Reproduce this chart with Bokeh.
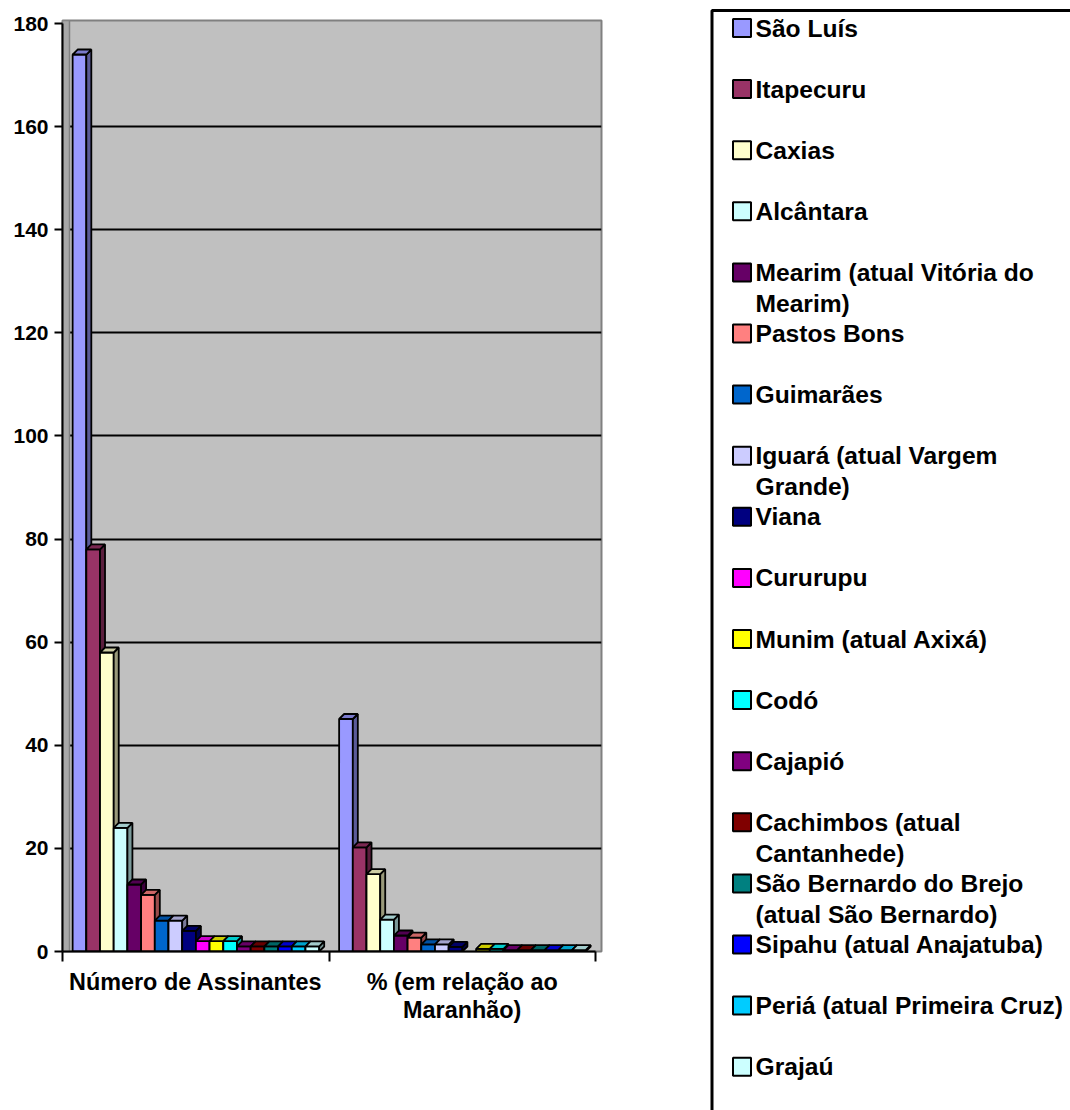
from bokeh.plotting import figure
from bokeh.models import Range1d, FixedTicker
from bokeh.layouts import row
from bokeh.embed import file_html
from bokeh.resources import INLINE
from bokeh.core.properties import value

# ---- data ----
categories = ["Número de Assinantes", "% (em relação ao\nMaranhão)"]
series = [
    "São Luís", "Itapecuru", "Caxias", "Alcântara",
    "Mearim (atual Vitória do\nMearim)", "Pastos Bons", "Guimarães",
    "Iguará (atual Vargem\nGrande)", "Viana", "Cururupu", "Munim (atual Axixá)",
    "Codó", "Cajapió", "Cachimbos (atual\nCantanhede)",
    "São Bernardo do Brejo\n(atual São Bernardo)", "Sipahu (atual Anajatuba)",
    "Periá (atual Primeira Cruz)", "Grajaú",
]
assinantes = [174, 78, 58, 24, 13, 11, 6, 6, 4, 2, 2, 2, 1, 1, 1, 1, 1, 1]
percentual = [45.1, 20.2, 15.0, 6.2, 3.1, 2.7, 1.4, 1.4, 0.9, 0, 0.5, 0.5, 0.26, 0.26, 0.26, 0.26, 0.26, 0.26]
colors = ["#9999FF", "#993366", "#FFFFCC", "#CCFFFF", "#660066", "#FF8080",
          "#0066CC", "#CCCCFF", "#000080", "#FF00FF", "#FFFF00", "#00FFFF",
          "#800080", "#800000", "#008080", "#0000FF", "#00CCFF", "#CCFFFF"]
y_ticks = list(range(0, 181, 20))


def shade(hexcol, f):
    r, g, b = int(hexcol[1:3], 16), int(hexcol[3:5], 16), int(hexcol[5:7], 16)
    return "#%02x%02x%02x" % (int(r * f), int(g * f), int(b * f))


FONT = "Liberation Sans"
W, H = 708, 1110
ML, MT = 62, 20
FW = 539
FH = 931
MR = W - ML - FW
MB = H - MT - FH
XR = (0, 2.0225)
YR = (0, 180.6)
dxd = 5 * (XR[1] - XR[0]) / FW
dyd = 5 * (YR[1] - YR[0]) / FH
bw = 0.0514
off = 0.038

p = figure(width=W, height=H, x_range=Range1d(*XR), y_range=Range1d(*YR),
           output_backend="svg", toolbar_location=None,
           min_border_left=ML, min_border_right=MR, min_border_top=MT,
           min_border_bottom=MB, frame_align=False)
p.background_fill_color = "#C0C0C0"
p.border_fill_color = "white"
p.outline_line_color = "#808080"
p.outline_line_width = 2

# side wall
p.quad(left=0, right=dxd * 1.4, bottom=0, top=YR[1], fill_color="#A8A8A8",
       line_color="#808080", line_width=1.5)

for i, name in enumerate(series):
    vals = [assinantes[i], percentual[i]]
    L, R, T = [], [], []
    for c, v in enumerate(vals):
        if v > 0:
            l = c + off + i * bw
            L.append(l)
            R.append(l + bw)
            T.append(v)
    if not L:
        continue
    col = colors[i]
    p.quad(left=L, right=R, bottom=0, top=T, fill_color=col,
           line_color="black", line_width=1.8)
    sx = [[r, r + dxd, r + dxd, r] for r in R]
    sy = [[0, dyd, t + dyd, t] for t in T]
    p.patches(sx, sy, fill_color=shade(col, 0.6), line_color="black", line_width=1.8)
    tx = [[l, l + dxd, r + dxd, r] for l, r in zip(L, R)]
    ty = [[t, t + dyd, t + dyd, t] for t in T]
    p.patches(tx, ty, fill_color=shade(col, 0.8), line_color="black", line_width=1.8)

p.xgrid.visible = False
p.ygrid.ticker = FixedTicker(ticks=y_ticks[1:-1])
p.ygrid.grid_line_color = "black"
p.ygrid.grid_line_width = 2

ya = p.yaxis[0]
ya.ticker = FixedTicker(ticks=y_ticks, minor_ticks=[])
ya.bounds = (0, 180)
ya.axis_line_width = 2
ya.axis_line_color = "black"
ya.major_tick_out = 8
ya.major_tick_in = 0
ya.major_tick_line_width = 2
ya.major_label_standoff = 6
ya.major_label_text_font = FONT
ya.major_label_text_font_style = "bold"
ya.major_label_text_font_size = "21px"
ya.major_label_text_color = "black"

xa = p.xaxis[0]
xa.ticker = FixedTicker(ticks=[0.5, 1.5], minor_ticks=[0, 1, 2])
xa.major_label_overrides = {0.5: categories[0], 1.5: categories[1]}
xa.bounds = (0, 2)
xa.axis_line_width = 2
xa.axis_line_color = "black"
xa.major_tick_line_color = None
xa.major_tick_out = 0
xa.major_tick_in = 0
xa.minor_tick_out = 10
xa.minor_tick_in = 0
xa.minor_tick_line_width = 2
xa.minor_tick_line_color = "black"
xa.major_label_standoff = 7
xa.major_label_text_font = FONT
xa.major_label_text_font_style = "bold"
xa.major_label_text_font_size = "23.4px"
xa.major_label_text_color = "black"
xa.major_label_text_line_height = 1.1

# ---- legend panel ----
LW = 1070 - W
leg = figure(width=LW, height=H, x_range=Range1d(0, LW), y_range=Range1d(H, 0),
             output_backend="svg", toolbar_location=None, min_border=0,
             x_axis_type=None, y_axis_type=None, frame_align=False)
leg.outline_line_color = None
leg.grid.visible = False
leg.quad(left=3.5, right=LW + 60, top=10, bottom=H + 60, fill_color=None,
         line_color="black", line_width=3)

slot0, slot_step, line_step = 27.5, 61.1, 31
sq_x, sq_y, tx_x, tx_y, tx_t = [], [], [], [], []
for i, name in enumerate(series):
    y0 = slot0 + i * slot_step
    sq_x.append(33.5)
    sq_y.append(y0)
    for k, ln in enumerate(name.split("\n")):
        tx_x.append(47)
        tx_y.append(y0 + k * line_step)
        tx_t.append(ln)
leg.rect(x=sq_x, y=sq_y, width=18, height=18, width_units="screen",
         height_units="screen", fill_color=colors, line_color="black", line_width=2)
leg.text(x=tx_x, y=tx_y, text=tx_t, text_font=value(FONT), text_font_style="bold",
         text_font_size="24.6px", text_baseline="middle", text_align="left",
         text_color="black")

layout = row(p, leg)
open("out.html", "w").write(file_html(layout, INLINE))
